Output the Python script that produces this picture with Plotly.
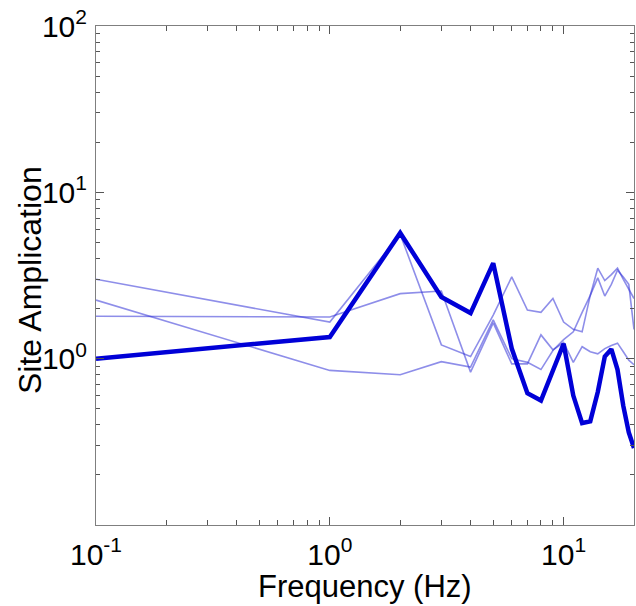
import plotly.graph_objects as go
import math

freqs = [0.1, 1, 2, 3, 4, 5, 6, 7, 8, 9, 10, 11, 12, 13, 14, 15, 16, 17, 18, 19, 20]

site_main = [1.0, 1.35, 5.7, 2.35, 1.88, 3.75, 1.15, 0.62, 0.56, 0.85, 1.23, 0.60,
             0.41, 0.42, 0.63, 1.03, 1.14, 0.86, 0.52, 0.36, 0.29]

site_a = [3.0, 1.66, 5.6, 1.21, 1.03, 1.83, 3.1, 1.96, 1.9, 2.3, 1.66, 1.5,
          1.45, 2.4, 3.5, 2.95, 3.2, 3.5, 3.0, 2.6, 2.3]
site_b = [1.8, 1.78, 2.46, 2.55, 0.83, 1.64, 0.93, 0.93, 1.39, 1.13, 1.25, 0.95,
          1.18, 1.1, 1.07, 1.15, 1.2, 1.24, 1.1, 0.98, 0.92]
site_c = [2.25, 0.85, 0.80, 0.96, 0.89, 1.71, 1.0, 0.95, 0.86, 1.12, 1.3, 1.45,
          1.9, 2.4, 3.06, 2.38, 2.8, 3.4, 3.1, 2.8, 1.5]

x_ticks = [0.1, 1, 10]
x_tick_labels = ["10<sup>-1</sup>", "10<sup>0</sup>", "10<sup>1</sup>"]
y_ticks = [1, 10, 100]
y_tick_labels = ["10<sup>0</sup>", "10<sup>1</sup>", "10<sup>2</sup>"]

x_title = "Frequency (Hz)"
y_title = "Site Amplication"

x_minor = [m * 10 ** k for k in (-1, 0, 1) for m in range(2, 10) if m * 10 ** k <= 20]
y_minor = [m * 10 ** k for k in (-1, 0, 1) for m in range(2, 10)]

thin_color = "rgba(50,50,215,0.55)"

fig = go.Figure()
for ys in (site_a, site_b, site_c):
    fig.add_trace(go.Scatter(x=freqs, y=ys, mode="lines",
                             line=dict(color=thin_color, width=1.6),
                             showlegend=False, hoverinfo="skip"))
fig.add_trace(go.Scatter(x=freqs, y=site_main, mode="lines",
                         line=dict(color="rgb(0,0,215)", width=4.5),
                         showlegend=False))

font_family = "Liberation Sans, Arial, sans-serif"
axis_common = dict(
    type="log", showgrid=False, zeroline=False, automargin=False,
    showline=True, linecolor="#7f7f7f", linewidth=1, mirror="ticks",
    ticks="inside", ticklen=8, tickcolor="#555555", tickwidth=1,
    tickfont=dict(family=font_family, size=30, color="black"),
)

fig.update_layout(
    width=636, height=606,
    margin=dict(l=96, r=2, t=26, b=81),
    paper_bgcolor="white", plot_bgcolor="white",
    xaxis=dict(**axis_common, range=[-1, math.log10(20)],
               tickvals=x_ticks, ticktext=x_tick_labels, ticklabelstandoff=3,
               minor=dict(tickvals=x_minor, ticks="inside", ticklen=5,
                          tickcolor="#555555", showgrid=False)),
    yaxis=dict(**axis_common, range=[-1, 2],
               tickvals=y_ticks, ticktext=y_tick_labels, ticklabelstandoff=2,
               minor=dict(tickvals=y_minor, ticks="inside", ticklen=4,
                          tickcolor="#555555", showgrid=False)),
    annotations=[
        dict(text=x_title, xref="paper", yref="paper", x=0.5, y=-0.124,
             xanchor="center", yanchor="middle", showarrow=False,
             font=dict(family=font_family, size=31, color="black")),
        dict(text=y_title, xref="paper", yref="paper", x=-0.1227, y=0.491,
             xanchor="center", yanchor="middle", showarrow=False, textangle=-90,
             font=dict(family=font_family, size=32, color="black")),
    ],
)

fig.write_html(
    "out.html",
    config={"displayModeBar": False},
    post_script="document.body.style.margin='0';document.body.style.overflow='hidden';",
)
